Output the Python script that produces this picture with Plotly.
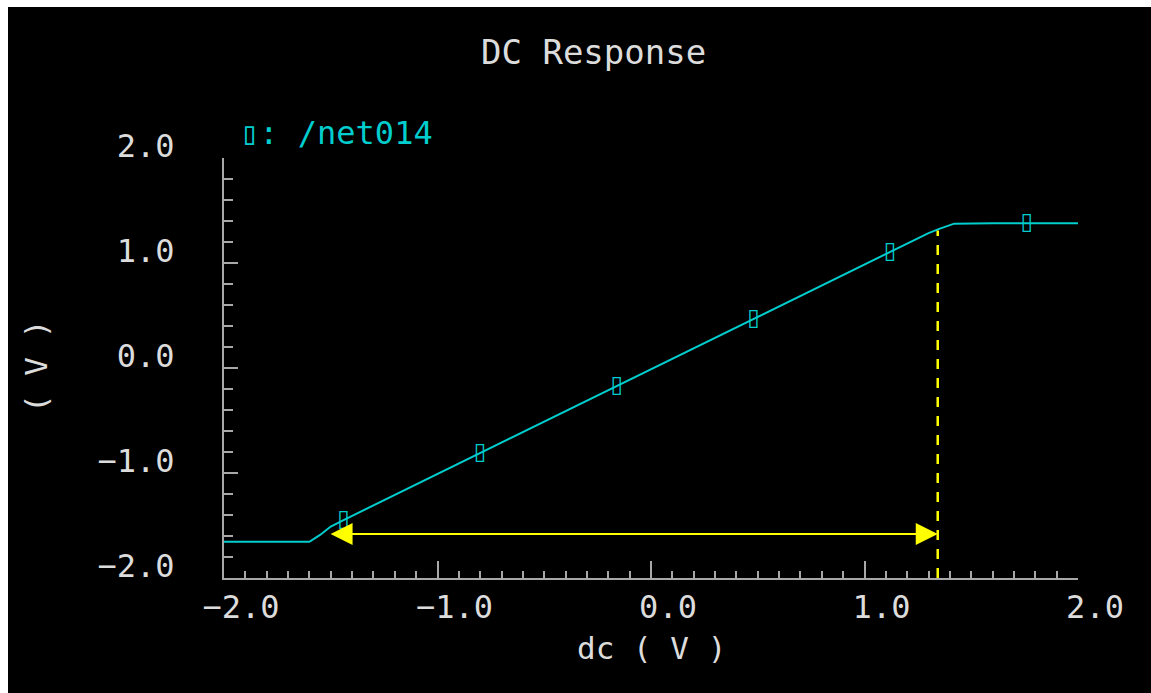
import plotly.graph_objects as go

# ---- data ----
dc_x = [-2.0, -1.60, -1.55, -1.50, -1.44, -0.80, -0.16, 0.48, 1.12, 1.30, 1.35, 1.42, 1.60, 1.76, 2.0]
net014_y = [-1.655, -1.655, -1.59, -1.51, -1.448, -0.81, -0.17, 0.467, 1.105, 1.285, 1.325, 1.375, 1.378, 1.378, 1.378]
marker_x = [-1.44, -0.80, -0.16, 0.48, 1.12, 1.76]
marker_y = [-1.448, -0.81, -0.17, 0.467, 1.105, 1.378]

cutoff_x = 1.343          # yellow dashed marker
cutoff_top = 1.31
axis_bottom = -2.0
arrow_y = -1.58
arrow_left = -1.508

x_ticks = [-2.0, -1.0, 0.0, 1.0, 2.0]
y_ticks = [-2.0, -1.0, 0.0, 1.0, 2.0]

TEXT = "#dcdcdc"
AXIS = "#a8a8a8"
CYAN = "#00cdcd"
YELLOW = "#ffff00"
FONT = "DejaVu Sans Mono"

W, H = 1151, 693
L, R, T, B = 224, 73, 158, 115
PW, PH = W - L - R, H - T - B


def px(p):
    return (p - L) / PW


def py(p):
    return (H - B - p) / PH


fig = go.Figure()

fig.add_trace(go.Scatter(x=dc_x, y=net014_y, mode="lines",
                         line=dict(color=CYAN, width=2), showlegend=False,
                         hoverinfo="skip"))
fig.add_trace(go.Scatter(x=marker_x, y=marker_y, mode="text", text=["▯"] * len(marker_x),
                         textfont=dict(color=CYAN, size=23, family="DejaVu Sans"),
                         textposition="middle center", showlegend=False))
fig.add_trace(go.Scatter(x=[cutoff_x, cutoff_x], y=[axis_bottom, cutoff_top], mode="lines",
                         line=dict(color=YELLOW, width=2.5, dash="10px,9px"),
                         showlegend=False))

fig.add_annotation(x=cutoff_x, y=arrow_y, ax=arrow_left, ay=arrow_y,
                   xref="x", yref="y", axref="x", ayref="y", text="",
                   showarrow=True, arrowside="end+start",
                   arrowhead=2, startarrowhead=2, arrowsize=2.2, startarrowsize=2.2,
                   arrowwidth=2, arrowcolor=YELLOW)

# frame: white border on top/left
fig.add_shape(type="rect", xref="paper", yref="paper",
              x0=px(8), x1=px(W + 20), y0=py(H + 20), y1=py(7),
              fillcolor="black", line=dict(width=0), layer="below")

fig.add_annotation(text="DC Response", xref="paper", yref="paper", x=px(593), y=py(52),
                   showarrow=False, font=dict(family=FONT, size=34, color=TEXT),
                   xanchor="center", yanchor="middle")
fig.add_annotation(text="▯: /net014", xref="paper", yref="paper", x=px(238), y=py(133),
                   showarrow=False, font=dict(family=FONT, size=32, color=CYAN),
                   xanchor="left", yanchor="middle")
fig.add_annotation(text="dc ( V )", xref="paper", yref="paper", x=px(651), y=py(648),
                   showarrow=False, font=dict(family=FONT, size=31, color=TEXT),
                   xanchor="center", yanchor="middle")
fig.add_annotation(text="( V )", xref="paper", yref="paper", x=px(36), y=py(367),
                   showarrow=False, textangle=-90, font=dict(family=FONT, size=31, color=TEXT),
                   xanchor="center", yanchor="middle")

axis_common = dict(showgrid=False, zeroline=False, showline=True, linecolor=AXIS, linewidth=2,
                   ticks="inside", tickcolor=AXIS, tickwidth=2, mirror=False,
                   tickfont=dict(family=FONT, size=32, color=TEXT), tickformat=".1f")

fig.update_xaxes(range=[-2, 2], tickvals=x_ticks, ticklen=17, ticklabelstandoff=0,
                 ticklabelshift=17,
                 minor=dict(dtick=0.1, ticks="inside", ticklen=7, tickcolor=AXIS, tickwidth=2),
                 **axis_common)
fig.update_yaxes(range=[-2, 2], tickvals=y_ticks, ticklen=14, ticklabelstandoff=41,
                 ticklabelshift=-12,
                 minor=dict(dtick=0.2, ticks="inside", ticklen=9, tickcolor=AXIS, tickwidth=2),
                 **axis_common)

fig.update_layout(width=W, height=H, margin=dict(l=L, r=R, t=T, b=B, pad=0),
                  paper_bgcolor="white", plot_bgcolor="black", showlegend=False)

fig.write_html("out.html")
